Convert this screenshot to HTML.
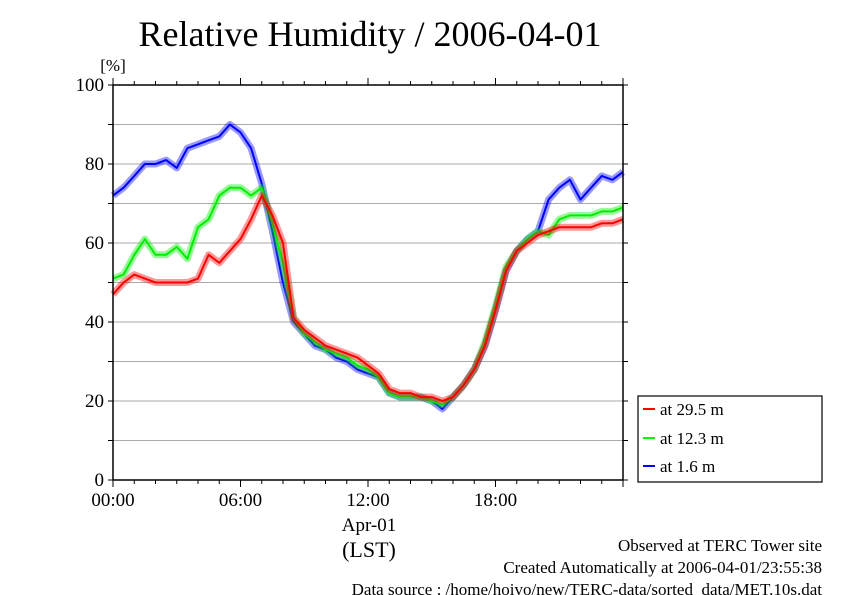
<!DOCTYPE html>
<html><head><meta charset="utf-8"><style>
body{margin:0;background:#fff;}
svg{display:block;font-family:"Liberation Serif",serif;}
</style></head><body>
<svg id="chart" width="842" height="595" viewBox="0 0 842 595">
<text x="370" y="46" font-size="36" text-anchor="middle">Relative Humidity / 2006-04-01</text>
<text x="113" y="71" font-size="17" text-anchor="middle">[%]</text>
<g id="grid"></g><g id="series"></g><g id="axes"></g>
<g>
<rect x="638" y="396" width="184" height="86" fill="#fff" stroke="#000" stroke-width="1.2"/>
<line x1="643" y1="409" x2="655" y2="409" stroke="#f00" stroke-width="2"/>
<text x="660" y="415" font-size="17">at 29.5 m</text>
<line x1="643" y1="438" x2="655" y2="438" stroke="#0f0" stroke-width="2"/>
<text x="660" y="444" font-size="17">at 12.3 m</text>
<line x1="643" y1="466" x2="655" y2="466" stroke="#00f" stroke-width="2"/>
<text x="660" y="472" font-size="17">at 1.6 m</text>
</g>
<text x="369" y="531" font-size="19" text-anchor="middle">Apr-01</text>
<text x="369" y="557" font-size="22" text-anchor="middle">(LST)</text>
<text x="822" y="551" font-size="17" text-anchor="end">Observed at TERC Tower site</text>
<text x="822" y="573" font-size="17" text-anchor="end">Created Automatically at 2006-04-01/23:55:38</text>
<text x="822" y="595" font-size="17" text-anchor="end">Data source : /home/hoivo/new/TERC-data/sorted_data/MET.10s.dat</text>
</svg>
<script>
const hours=[0,0.5,1,1.5,2,2.5,3,3.5,4,4.5,5,5.5,6,6.5,7,7.5,8,8.5,9,9.5,10,10.5,11,11.5,12,12.5,13,13.5,14,14.5,15,15.5,16,16.5,17,17.5,18,18.5,19,19.5,20,20.5,21,21.5,22,22.5,23,23.5,24];
const rh29=[47,50,52,51,50,50,50,50,51,57,55,58,61,66,72,67,60,41,38,36,34,33,32,31,29,27,23,22,22,21,21,20,21,24,28,34,43,53,58,60,62,63,64,64,64,64,65,65,66];
const rh12=[51,52,57,61,57,57,59,56,64,66,72,74,74,72,74,65,55,41,37,35,33,32,31,29,28,26,22,21,21,21,20,19,21,24,28,35,44,54,58,61,63,62,66,67,67,67,68,68,69];
const rh16=[72,74,77,80,80,81,79,84,85,86,87,90,88,84,75,63,50,40,37,34,33,31,30,28,27,26,22,21,21,21,20,18,21,24,28,34,43,53,58,61,63,71,74,76,71,74,77,76,78];
const yTicks=[0,20,40,60,80,100];
const xTicks=[0,6,12,18];
const xTickLabels=["00:00","06:00","12:00","18:00"];
const L=113,R=623,T=85,B=480;
const xs=h=>L+(R-L)*h/24, ys=v=>B-(B-T)*v/100;
const NS="http://www.w3.org/2000/svg";
function mk(tag,attrs,parent,txt){const e=document.createElementNS(NS,tag);for(const k in attrs)e.setAttribute(k,attrs[k]);if(txt!==undefined)e.textContent=txt;parent.appendChild(e);return e;}
const grid=document.getElementById('grid'),axes=document.getElementById('axes'),ser=document.getElementById('series');
for(let v=10;v<100;v+=10){const l=mk('line',{x1:L,x2:R,y1:ys(v),y2:ys(v),stroke:'#aaa','stroke-width':1},grid);

}
const fr=mk('rect',{x:L,y:T,width:R-L,height:B-T,fill:'none',stroke:'#000','stroke-width':1.5},axes);


for(let v=0;v<=100;v+=10){mk('line',{x1:L-5,x2:L,y1:ys(v),y2:ys(v),stroke:'#000'},axes);mk('line',{x1:R,x2:R+5,y1:ys(v),y2:ys(v),stroke:'#000'},axes);}
for(let h=0;h<=24;h++){const len=h%6===0?7:4;mk('line',{x1:xs(h),x2:xs(h),y1:B,y2:B+len,stroke:'#000'},axes);mk('line',{x1:xs(h),x2:xs(h),y1:T,y2:T-len,stroke:'#000'},axes);}
yTicks.forEach(v=>{const t=mk('text',{x:L-9,y:ys(v)+6,'font-size':19,'text-anchor':'end'},axes,String(v));

});
xTicks.forEach((h,i)=>{const t=mk('text',{x:xs(h),y:506,'font-size':19,'text-anchor':'middle'},axes,xTickLabels[i]);

});
function draw(arr,color,name){const d=arr.map((v,i)=>(i?'L':'M')+xs(hours[i]).toFixed(1)+','+ys(v).toFixed(1)).join('');
const band=mk('path',{d:d,fill:'none',stroke:color,'stroke-width':7,'stroke-opacity':0.4,'stroke-linejoin':'round'},ser);


const ln=mk('path',{d:d,fill:'none',stroke:color,'stroke-width':2,'stroke-linejoin':'round'},ser);

}
draw(rh16,'#0000ff','series-1-6m');
draw(rh12,'#00ee00','series-12-3m');
draw(rh29,'#ff0000','series-29-5m');
</script>
</body></html>
